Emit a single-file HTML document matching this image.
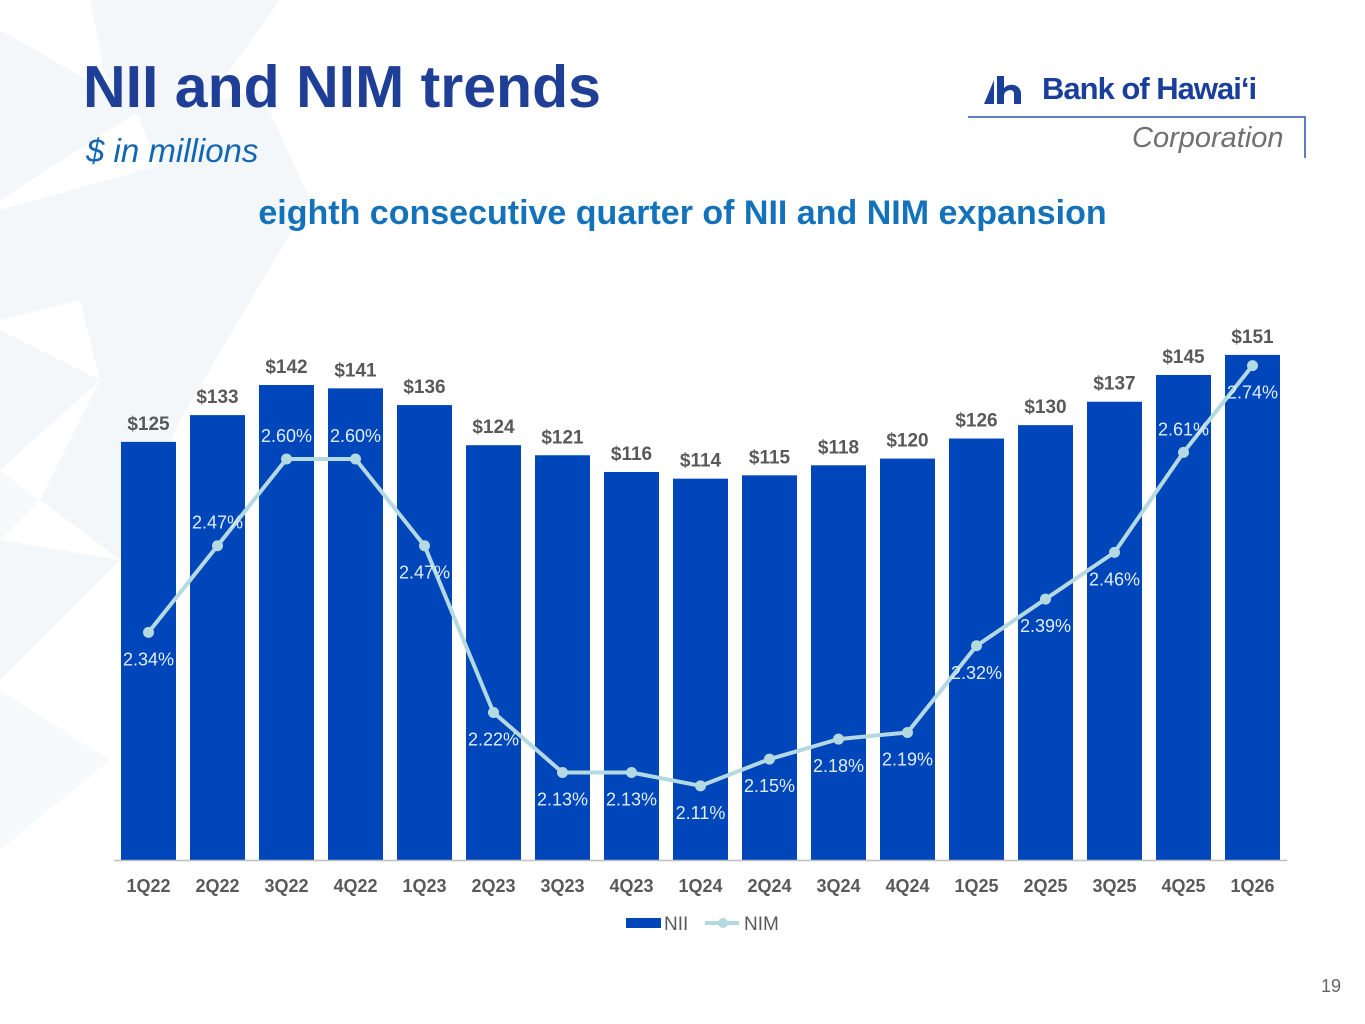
<!DOCTYPE html>
<html><head><meta charset="utf-8">
<style>
html,body{margin:0;padding:0;}
body{width:1365px;height:1024px;position:relative;overflow:hidden;background:#fff;font-family:"Liberation Sans",Arial,sans-serif;}
.abs{position:absolute;}
</style></head>
<body>
<svg class="abs" style="left:0;top:0" width="1365" height="1024">
  <g fill="#f3f7f9">
    <polygon points="90,0 280,0 180,140 110,100"/>
    <polygon points="0,30 140,110 0,200"/>
    <polygon points="140,120 260,90 310,200 180,220"/>
    <polygon points="0,210 180,160 310,200 80,300 0,320"/>
    <polygon points="80,300 310,200 180,420 100,380"/>
    <polygon points="0,330 100,380 0,470"/>
    <polygon points="100,380 180,420 120,560 40,500"/>
    <polygon points="0,540 120,560 0,680"/>
  </g>
  <g fill="#f7fafb">
    <polygon points="0,470 40,500 0,540"/>
    <polygon points="0,690 110,760 0,850"/>
  </g>
</svg>

<div class="abs" style="left:83px;top:53px;font-size:59px;font-weight:bold;color:#1f3f97;">NII and NIM trends</div>
<div class="abs" style="left:86px;top:132px;font-size:33px;font-style:italic;color:#1466b3;">$ in millions</div>
<div class="abs" style="left:0;width:1365px;text-align:center;top:194px;font-size:34px;font-weight:bold;color:#1472bb;">eighth consecutive quarter of NII and NIM expansion</div>

<div class="abs" style="left:968px;top:66px;width:340px;height:95px;">
  <svg class="abs" style="left:16px;top:8px" width="40" height="32">
    <polygon points="0,30 10,30 10,6" fill="#1a3f9a"/>
    <path d="M13,2 L20,2 L20,14 Q24,10 30,11 Q37,13 37,20 L37,30 L30,30 L30,20 Q30,16 26,16 Q20,17 20,22 L20,30 L13,30 Z" fill="#1a3f9a"/>
  </svg>
  <div class="abs" style="left:74px;top:5px;font-size:31px;font-weight:bold;color:#1a3f9a;letter-spacing:-1px;">Bank of Hawai‘i</div>
  <div class="abs" style="left:0;top:50px;width:338px;height:2px;background:#5a7fc4;"></div>
  <div class="abs" style="left:336px;top:50px;width:2px;height:42px;background:#5a7fc4;"></div>
  <div class="abs" style="left:164px;top:56px;font-size:29px;font-style:italic;color:#707070;">Corporation</div>
</div>

<svg id="chart" class="abs" style="left:0;top:0" width="1365" height="1024"></svg>

<div class="abs" style="left:1321px;top:976px;font-size:18px;color:#666;">19</div>

<script>
const categories = ["1Q22","2Q22","3Q22","4Q22","1Q23","2Q23","3Q23","4Q23","1Q24","2Q24","3Q24","4Q24","1Q25","2Q25","3Q25","4Q25","1Q26"];
const niiValues = [125,133,142,141,136,124,121,116,114,115,118,120,126,130,137,145,151];
const nimValues = [2.34,2.47,2.60,2.60,2.47,2.22,2.13,2.13,2.11,2.15,2.18,2.19,2.32,2.39,2.46,2.61,2.74];
const nimLabelAbove = [false,true,true,true,false,false,false,false,false,false,false,false,false,false,false,true,false];

const NS = "http://www.w3.org/2000/svg";
const svg = document.getElementById("chart");
const x = i => 148.5 + i*69;
const yBar = v => 860 - v*3.345;
const yNim = v => 459 + (2.60 - v)*667;
function mk(tag, attrs, parent){ const e=document.createElementNS(NS,tag); for(const k in attrs) e.setAttribute(k,attrs[k]); (parent||svg).appendChild(e); return e; }

niiValues.forEach((v,i)=>{
  const r = mk("rect",{x:x(i)-27.5,y:yBar(v),width:55,height:860-yBar(v),fill:"#0046bb"});
  
  
  const t = mk("text",{x:x(i),y:yBar(v)-12,"text-anchor":"middle","font-size":19,"font-weight":"bold",fill:"#595959","font-family":"Liberation Sans, sans-serif"});
  t.textContent = "$"+v;
  
  
});
const axis = mk("line",{x1:114,x2:1287,y1:860.5,y2:860.5,stroke:"#bfbfbf","stroke-width":1.5});


categories.forEach((c,i)=>{
  const t = mk("text",{x:x(i),y:892,"text-anchor":"middle","font-size":18,"font-weight":"bold",fill:"#595959","font-family":"Liberation Sans, sans-serif"});
  t.textContent = c;
  
  
});
const pts = nimValues.map((v,i)=>x(i)+","+yNim(v)).join(" ");
const line = mk("polyline",{points:pts,fill:"none",stroke:"#b4d9e0","stroke-width":4,"stroke-linejoin":"round"});


nimValues.forEach((v,i)=>{
  const c = mk("circle",{cx:x(i),cy:yNim(v),r:5.5,fill:"#b4d9e0"});
  
  
  const ly = nimLabelAbove[i] ? yNim(v)-17 : yNim(v)+33;
  const t = mk("text",{x:x(i),y:ly,"text-anchor":"middle","font-size":18,fill:"#dfeef3","font-family":"Liberation Sans, sans-serif"});
  t.textContent = v.toFixed(2)+"%";
  
  
});
const lg = mk("g",{});


mk("rect",{x:626,y:918,width:35,height:10,fill:"#0046bb"},lg);
const t1 = mk("text",{x:664,y:930,"font-size":19,fill:"#595959","font-family":"Liberation Sans, sans-serif"},lg); t1.textContent="NII";
mk("line",{x1:705,x2:739,y1:923,y2:923,stroke:"#b4d9e0","stroke-width":4},lg);
mk("circle",{cx:723,cy:923,r:5,fill:"#b4d9e0"},lg);
const t2 = mk("text",{x:744,y:930,"font-size":19,fill:"#595959","font-family":"Liberation Sans, sans-serif"},lg); t2.textContent="NIM";
</script>
</body></html>
